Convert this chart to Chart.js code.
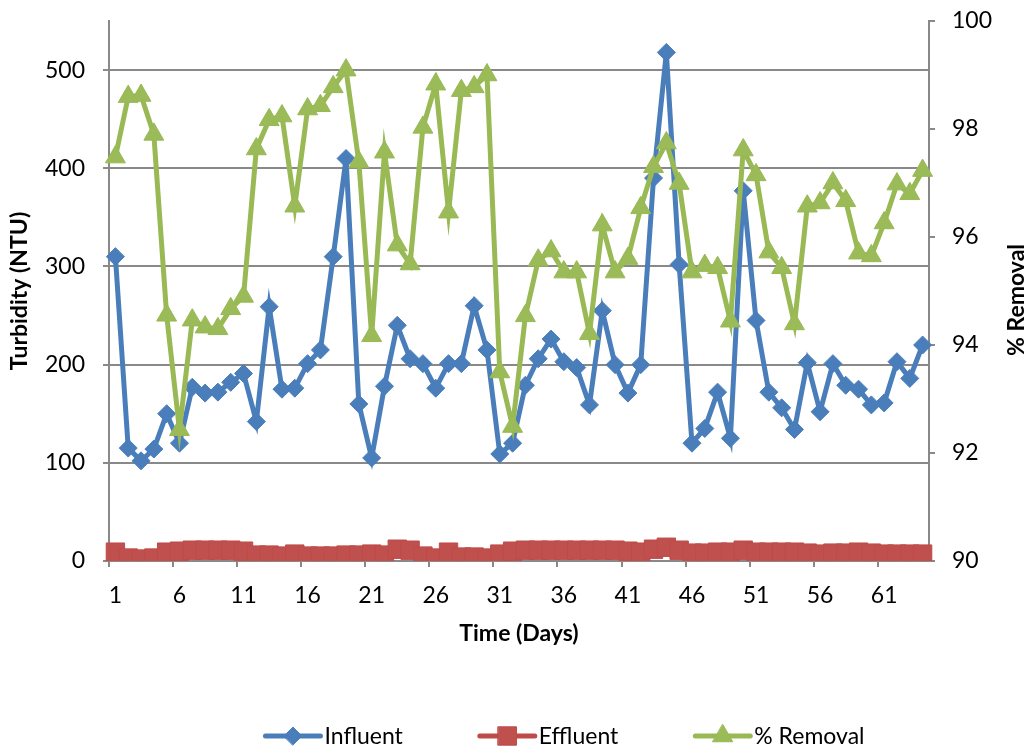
<!DOCTYPE html>
<html>
<head>
<meta charset="utf-8">
<script src="https://cdn.jsdelivr.net/npm/chart.js@4.4.1/dist/chart.umd.min.js"></script>
<style>
  html, body { margin: 0; padding: 0; background: #fff; }
  #wrap { width: 1031px; height: 749px; }
</style>
</head>
<body>
<div id="wrap"><canvas id="turbidityChart" width="1031" height="749"></canvas></div>
<script>
const days = [
  '1','2','3','4','5','6','7','8','9','10','11','12','13','14','15','16',
  '17','18','19','20','21','22','23','24','25','26','27','28','29','30','31','32',
  '33','34','35','36','37','38','39','40','41','42','43','44','45','46','47','48',
  '49','50','51','52','53','54','55','56','57','58','59','60','61','62','63','64'
];
const xTickLabels = ['1','6','11','16','21','26','31','36','41','46','51','56','61'];
const leftTicks = [0, 100, 200, 300, 400, 500];
const rightTicks = [90, 92, 94, 96, 98, 100];

const influent = [
  310, 115, 102, 114, 150, 120, 177, 171, 172, 182, 191, 142, 259, 175, 176, 201,
  215, 310, 410, 160, 105, 178, 240, 206, 201, 176, 201, 201, 260, 215, 109, 120,
  179, 206, 226, 203, 197, 159, 255, 200, 171, 200, 390, 518, 302, 120, 135, 172,
  125, 377, 245, 172, 156, 134, 202, 152, 201, 179, 175, 159, 161, 203, 186, 220
];
const effluent = [
  9, 3, 2, 3, 9, 10, 11, 11, 11, 11, 10, 6, 6, 5, 7, 5,
  5, 5, 6, 6, 7, 6, 12, 11, 5, 3, 9, 4, 4, 3, 7, 10,
  11, 11, 11, 11, 11, 11, 11, 11, 10, 9, 12, 14, 11, 8, 8, 9,
  9, 11, 9, 9, 9, 9, 8, 7, 8, 8, 9, 8, 7, 7, 7, 7
];
const removal = [
  97.48, 98.60, 98.62, 97.90, 94.55, 92.43, 94.46, 94.33, 94.30, 94.67, 94.90, 97.63, 98.17, 98.24, 96.57, 98.37,
  98.43, 98.78, 99.09, 97.39, 94.17, 97.57, 95.85, 95.50, 98.03, 98.83, 96.46, 98.71, 98.78, 99.00, 93.50, 92.49,
  94.54, 95.57, 95.74, 95.35, 95.35, 94.21, 96.22, 95.35, 95.60, 96.54, 97.30, 97.74, 96.99, 95.35, 95.47, 95.43,
  94.44, 97.61, 97.15, 95.72, 95.43, 94.39, 96.57, 96.63, 97.00, 96.67, 95.70, 95.65, 96.26, 96.98, 96.80, 97.23
];

const FONT = "Lato, 'Open Sans', sans-serif";
const gray = '#898989';

// legend under the plot + right title that reads bottom-to-top
const extrasPlugin = {
  id: 'extras',
  afterDraw(chart) {
    const c = chart.ctx;
    c.save();
    c.font = '23px ' + FONT;
    const symW = 55, gapText = 4, gapItem = 77;
    const items = chart.data.datasets.map(ds => ({ ds, w: c.measureText(ds.label).width }));
    const total = items.reduce((s, it) => s + symW + gapText + it.w, 0) + gapItem * (items.length - 1);
    let x = 565 - total / 2;
    const y = 736;
    items.forEach(({ ds, w }) => {
      c.strokeStyle = ds.borderColor;
      c.lineWidth = 5;
      c.lineCap = 'round';
      c.beginPath(); c.moveTo(x, y); c.lineTo(x + symW, y); c.stroke();
      c.fillStyle = ds.pointBackgroundColor;
      c.strokeStyle = ds.pointBorderColor;
      c.lineWidth = 1;
      Chart.helpers.drawPoint(c, { pointStyle: ds.pointStyle, radius: ds.pointRadius, borderWidth: 1, rotation: 0 }, x + symW / 2, y);
      c.fillStyle = '#000';
      c.textBaseline = 'middle';
      c.textAlign = 'left';
      c.fillText(ds.label, x + symW + gapText, y + 1);
      x += symW + gapText + w + gapItem;
    });
    c.translate(1017, 300);
    c.rotate(-Math.PI / 2);
    c.font = 'bold 23px ' + FONT;
    c.textAlign = 'center';
    c.textBaseline = 'middle';
    c.fillStyle = '#000';
    c.fillText('% Removal', 0, 0);
    c.restore();
  }
};

const ctx = document.getElementById('turbidityChart');
new Chart(ctx, {
  type: 'line',
  data: {
    labels: days,
    datasets: [
      { label: 'Influent', data: influent, yAxisID: 'y', order: 3,
        borderColor: '#4A7EBB', borderWidth: 5, pointStyle: 'rectRot', pointRadius: 9,
        pointBackgroundColor: '#4A7EBB', pointBorderColor: '#4A7EBB', pointBorderWidth: 1, tension: 0 },
      { label: 'Effluent', data: effluent, yAxisID: 'y', order: 2,
        borderColor: '#BE4B48', borderWidth: 5, pointStyle: 'rect', pointRadius: 13,
        pointBackgroundColor: '#C0504D', pointBorderColor: '#BE4B48', pointBorderWidth: 1, tension: 0 },
      { label: '% Removal', data: removal, yAxisID: 'y1', order: 1,
        borderColor: '#98B954', borderWidth: 5, pointStyle: 'triangle', pointRadius: 11.5,
        pointBackgroundColor: '#9BBB59', pointBorderColor: '#98B954', pointBorderWidth: 1, tension: 0 }
    ]
  },
  options: {
    responsive: false,
    animation: false,
    layout: { padding: { top: 21, left: 0, right: 0, bottom: 0 } },
    plugins: { legend: { display: false }, tooltip: { enabled: false } },
    scales: {
      x: {
        type: 'category',
        offset: true,
        grid: {
          offset: true, drawOnChartArea: false, tickLength: 6, lineWidth: 2,
          color: c => (c.index % 5 === 0 ? gray : 'rgba(0,0,0,0)')
        },
        border: { color: gray, width: 2 },
        ticks: {
          autoSkip: false, maxRotation: 0, minRotation: 0, padding: 15, color: '#000',
          font: { family: FONT, size: 23 },
          callback: function (v) {
            const l = this.getLabelForValue(v);
            return xTickLabels.includes(l) ? l : '';
          }
        },
        title: { display: true, text: 'Time (Days)', color: '#000',
          font: { family: FONT, size: 23, weight: 'bold' }, padding: { top: 0, bottom: 102 } },
        afterFit: s => { s.height = 188; s.paddingLeft = 0; s.paddingRight = 0; }
      },
      y: {
        position: 'left',
        min: 0, max: 550,
        afterBuildTicks: s => { s.ticks = leftTicks.map(v => ({ value: v })); },
        grid: { color: gray, lineWidth: 2, tickLength: 6 },
        border: { color: gray, width: 2 },
        ticks: { padding: 18, color: '#000', font: { family: FONT, size: 23 } },
        title: { display: true, text: 'Turbidity (NTU)', color: '#000',
          font: { family: FONT, size: 23, weight: 'bold' }, padding: { top: 6, bottom: 0 } },
        afterFit: s => { s.width = 109; s.paddingTop = 0; s.paddingBottom = 0; }
      },
      y1: {
        position: 'right',
        min: 90, max: 100,
        afterBuildTicks: s => { s.ticks = rightTicks.map(v => ({ value: v })); },
        grid: { drawOnChartArea: false, color: gray, lineWidth: 2, tickLength: 6 },
        border: { color: gray, width: 2 },
        ticks: { padding: 17, color: '#000', font: { family: FONT, size: 23 } },
        afterFit: s => { s.width = 102; s.paddingTop = 0; s.paddingBottom = 0; }
      }
    }
  },
  plugins: [extrasPlugin]
});
</script>
</body>
</html>
